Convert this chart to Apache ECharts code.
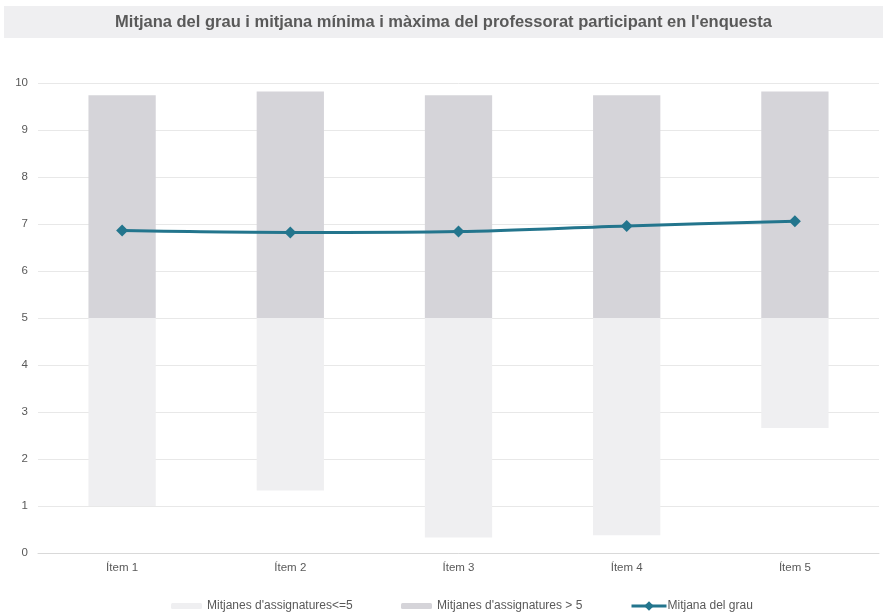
<!DOCTYPE html>
<html>
<head>
<meta charset="utf-8">
<script src="https://cdn.jsdelivr.net/npm/echarts@6/dist/echarts.min.js"></script>
<style>
html,body{margin:0;padding:0;background:#fff;}
#chart{width:887px;height:612px;}
</style>
</head>
<body>
<div id="chart"></div>
<script>
var categories = ['Ítem 1', 'Ítem 2', 'Ítem 3', 'Ítem 4', 'Ítem 5'];
var minValues = [1.0, 1.33, 0.33, 0.38, 2.66];
var maxValues = [9.74, 9.82, 9.74, 9.74, 9.82];
var meanValues = [6.86, 6.82, 6.84, 6.96, 7.06];
var threshold = 5;
var yTicks = [0, 1, 2, 3, 4, 5, 6, 7, 8, 9, 10];

var lowerPart = minValues.map(function (v) { return +(threshold - v).toFixed(2); });
var upperPart = maxValues.map(function (v) { return +(v - threshold).toFixed(2); });

var textColor = '#595959';
var fontFamily = '"Liberation Sans", Arial, sans-serif';

var chart = echarts.init(document.getElementById('chart'), null, {renderer: 'canvas'});
chart.setOption({
  backgroundColor: '#ffffff',
  animation: false,
  textStyle: {fontFamily: fontFamily},
  graphic: [{
    type: 'rect',
    left: 4, top: 6,
    shape: {width: 879, height: 32},
    style: {fill: '#efeff1'},
    z: 0
  }],
  title: {
    text: "Mitjana del grau i mitjana mínima i màxima del professorat participant en l'enquesta",
    left: 'center',
    top: 12,
    padding: 0,
    textStyle: {fontSize: 16.5, fontWeight: 'bold', color: textColor, fontFamily: fontFamily, lineHeight: 20}
  },
  legend: [
    {
      data: ["Mitjanes d'assignatures<=5"],
      left: 171, top: 599, padding: 0,
      itemWidth: 31, itemHeight: 6,
      textStyle: {fontSize: 12, color: textColor, fontFamily: fontFamily, lineHeight: 14}
    },
    {
      data: ["Mitjanes d'assignatures > 5"],
      left: 401, top: 599, padding: 0,
      itemWidth: 31, itemHeight: 6,
      textStyle: {fontSize: 12, color: textColor, fontFamily: fontFamily, lineHeight: 14}
    },
    {
      data: ['Mitjana del grau'],
      left: 630, top: 600, padding: 0,
      itemWidth: 35, itemHeight: 12,
      lineStyle: {width: 3},
      textStyle: {fontSize: 12, color: textColor, fontFamily: fontFamily, lineHeight: 12, padding: [0,0,0,-4]}
    }
  ],
  grid: {left: 38, right: 8, top: 83, bottom: 59, containLabel: false},
  xAxis: {
    type: 'category',
    data: categories,
    axisLine: {lineStyle: {color: '#d9d9d9'}},
    axisTick: {show: false},
    axisLabel: {color: textColor, fontSize: 11.5, margin: 9, fontFamily: fontFamily}
  },
  yAxis: {
    type: 'value',
    min: yTicks[0],
    max: yTicks[yTicks.length - 1],
    interval: 1,
    axisLine: {show: false},
    axisTick: {show: false},
    axisLabel: {color: textColor, fontSize: 11.5, margin: 10, fontFamily: fontFamily},
    splitLine: {lineStyle: {color: '#e8e8e8', width: 1}}
  },
  series: [
    {
      name: '_base',
      type: 'bar',
      stack: 'range',
      barWidth: '40%',
      data: minValues,
      itemStyle: {color: 'rgba(0,0,0,0)'},
      emphasis: {disabled: true},
      silent: true
    },
    {
      name: "Mitjanes d'assignatures<=5",
      type: 'bar',
      stack: 'range',
      barWidth: '40%',
      data: lowerPart,
      itemStyle: {color: '#efeff1'}
    },
    {
      name: "Mitjanes d'assignatures > 5",
      type: 'bar',
      stack: 'range',
      barWidth: '40%',
      data: upperPart,
      itemStyle: {color: '#d5d4d9'}
    },
    {
      name: 'Mitjana del grau',
      type: 'line',
      data: meanValues,
      smooth: 0.3,
      symbol: 'diamond',
      symbolSize: 12,
      lineStyle: {color: '#23758d', width: 3},
      itemStyle: {color: '#23758d'},
      z: 5
    }
  ]
});
</script>
</body>
</html>
